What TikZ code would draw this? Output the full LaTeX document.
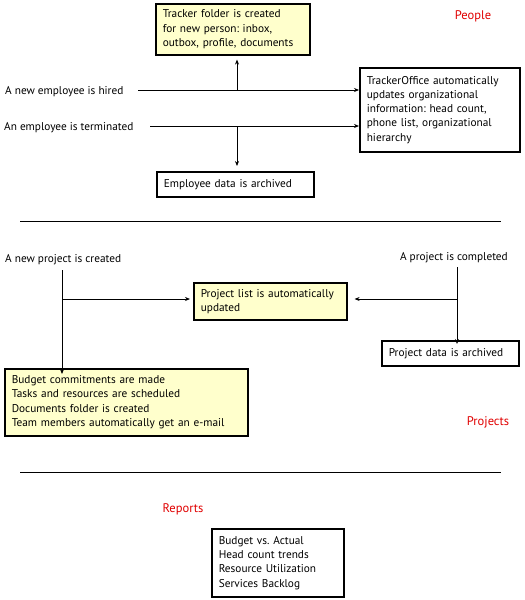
\documentclass[tikz,border=0pt]{standalone}
\usepackage{fontspec}
\setmainfont{PT Sans}
\usetikzlibrary{arrows.meta}
\definecolor{boxyellow}{HTML}{FFFFCC}
\definecolor{headred}{HTML}{E00000}
\frenchspacing
\tikzset{
  box/.style={draw=black, line width=1.6pt, align=left, inner xsep=7pt, inner ysep=3pt, font=\fontsize{11.3}{14.3}\selectfont},
  ybox/.style={box, fill=boxyellow},
  lbl/.style={inner sep=0pt, font=\fontsize{11.3}{14.3}\selectfont},
  head/.style={inner sep=0pt, text=headred, font=\fontsize{12.5}{14}\selectfont},
  conn/.style={line width=0.8pt, -{Stealth[length=5pt,width=4pt]}},
  rule/.style={line width=0.8pt}
}
\begin{document}
\begin{tikzpicture}[x=1pt,y=-1pt]
\useasboundingbox (0,0) rectangle (525,600);
% People
\node[ybox, minimum width=154, minimum height=51, text width=140, anchor=north west] (folder) at (155,3) {Tracker folder is created\\for new person: inbox,\\outbox, profile, documents};
\node[head] (people) at (473,16) {People};
\node[lbl, anchor=west] (hired) at (5,91.5) {A new employee is hired};
\node[lbl, anchor=west] (term) at (4,127.5) {An employee is terminated};
\node[box, minimum width=160, minimum height=84, text width=146, anchor=north west] (office) at (359,67) {TrackerOffice automatically\\updates organizational\\information: head count,\\phone list, organizational\\hierarchy};
\node[box, minimum width=157, minimum height=25, text width=143, anchor=north west] (archived) at (156,171) {Employee data is archived};
\coordinate (hb) at (237,90);
\coordinate (tb) at (237,126);
\coordinate (hs) at (138,90);
\coordinate (ts) at (150,126);
\draw[conn] (hs) -- (hs -| office.west);
\draw[conn] (hb) -- ([yshift=-4pt]hb |- folder.south);
\draw[conn] (ts) -- (ts -| office.west);
\draw[conn] (tb) -- ([yshift=5pt]tb |- archived.north);
\coordinate (r1a) at (20,221);
\coordinate (r1b) at (501,221);
\draw[rule] (r1a) -- (r1b);
% Projects
\node[lbl, anchor=west] (newproj) at (5,259.5) {A new project is created};
\node[lbl, anchor=east] (done) at (508,257.5) {A project is completed};
\node[ybox, minimum width=153, minimum height=37, text width=139, anchor=north west] (plist) at (193,282) {Project list is automatically\\updated};
\node[box, minimum width=137, minimum height=25, text width=123, anchor=north west] (parch) at (381,340) {Project data is archived};
\node[ybox, minimum width=243, minimum height=67, text width=229, anchor=north west] (budget) at (4,368) {Budget commitments are made\\Tasks and resources are scheduled\\Documents folder is created\\Team members automatically get an e-mail};
\node[head] (projects) at (488,422) {Projects};
\coordinate (np) at (62,270);
\coordinate (npb) at (62,299);
\coordinate (cp) at (457,267);
\coordinate (cpb) at (457,299);
\draw[conn] (np) -- ([yshift=-6pt]np |- budget.north);
\draw[conn] (npb) -- ([xshift=-3pt]npb -| plist.west);
\draw[conn] (cp) -- ([yshift=-4pt]cp |- parch.north);
\draw[conn] (cpb) -- ([xshift=7pt]cpb -| plist.east);
\coordinate (r2a) at (20,472);
\coordinate (r2b) at (501,472);
\draw[rule] (r2a) -- (r2b);
% Reports
\node[head] (reports) at (183,509) {Reports};
\node[box, minimum width=132, minimum height=68, text width=118, anchor=north west] (rep) at (211,528) {Budget vs. Actual\\Head count trends\\Resource Utilization\\Services Backlog};
\end{tikzpicture}
\end{document}
